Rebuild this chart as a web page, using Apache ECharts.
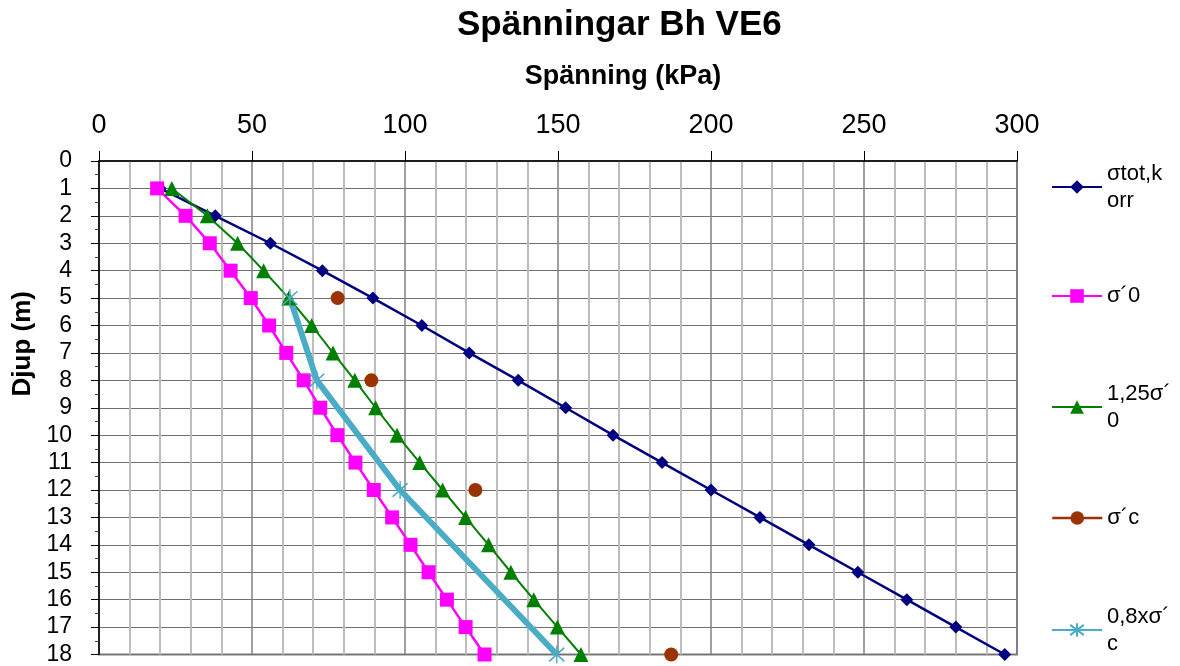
<!DOCTYPE html>
<html>
<head>
<meta charset="utf-8">
<title>Spänningar Bh VE6</title>
<script src="https://cdn.jsdelivr.net/npm/echarts@6.0.0/dist/echarts.min.js"></script>
<style>
  html, body { margin: 0; padding: 0; background: #fff; }
  #chart { width: 1180px; height: 666px; }
</style>
</head>
<body>
<div id="chart"></div>
<script>
  // djup (m)
  const depths = [1, 2, 3, 4, 5, 6, 7, 8, 9, 10, 11, 12, 13, 14, 15, 16, 17, 18]
  const sigmaTotKorr = [20, 38, 56, 73, 89.5, 105.5, 121, 137, 152.5, 168, 184, 200, 216, 232, 248, 264, 280, 296]
  const sigma0 = [19, 28.3, 36.2, 43, 49.6, 55.6, 61.2, 66.9, 72.3, 77.9, 83.8, 89.8, 95.8, 101.8, 107.7, 113.7, 119.8, 126]
  const sigma0x125 = [23.8, 35.4, 45.3, 53.8, 62, 69.5, 76.5, 83.6, 90.4, 97.4, 104.8, 112.3, 119.8, 127.3, 134.6, 142.1, 149.8, 157.5]
  // förkonsolideringstryck
  const depthsC = [5, 8, 12, 18]
  const sigmaC = [78, 89, 123, 187]
  const sigmaCx08 = [62.4, 71.2, 98.4, 149.6]

  const seriesNames = ['σtot,korr', 'σ´0', '1,25σ´0', 'σ´c', '0,8xσ´c']
  const legendLabels = ['σtot,k\norr', 'σ´0', '1,25σ´\n0', 'σ´c', '0,8xσ´\nc']
  const legendCenters = [187, 296, 407, 518, 630]

  const xTicks = [0, 50, 100, 150, 200, 250, 300]
  const yTicks = [0, 18]

  const FONT = '"Liberation Sans", Arial, sans-serif'
  const LINE_H = 27

  function pairs(xs, ys) {
    return xs.map((x, i) => [x, ys[i]])
  }

  const chart = echarts.init(document.getElementById('chart'))

  const legends = seriesNames.map((name, i) => {
    const twoLine = legendLabels[i].indexOf('\n') >= 0
    return {
      data: [name],
      left: 1051,
      top: legendCenters[i] - (twoLine ? LINE_H * 1.5 : LINE_H / 2),
      padding: 0,
      itemWidth: 50,
      itemHeight: 17,
      selectedMode: false,
      formatter: () => legendLabels[i],
      lineStyle: { opacity: 1 },
      textStyle: {
        fontFamily: FONT,
        fontSize: 22,
        color: '#000',
        lineHeight: LINE_H,
        padding: twoLine ? [LINE_H, 0, 0, 0] : 0
      }
    }
  })
  // σ´c har bara punkter men linje i legenden
  legends[3].lineStyle = { opacity: 1, width: 2.5, color: '#993300' }

  chart.setOption({
    animation: false,
    title: {
      text: 'Spänningar Bh VE6',
      left: 457,
      top: 8,
      padding: 0,
      textStyle: { fontFamily: FONT, fontSize: 35, fontWeight: 'bold', color: '#000' }
    },
    legend: legends,
    grid: {
      left: 99,
      top: 161,
      width: 918,
      height: 494,
      show: true,
      borderColor: '#808080',
      borderWidth: 2
    },
    xAxis: {
      type: 'value',
      position: 'top',
      min: xTicks[0],
      max: xTicks[xTicks.length - 1],
      interval: 50,
      name: 'Spänning (kPa)',
      nameLocation: 'middle',
      nameGap: 71,
      nameTextStyle: {
        fontFamily: FONT, fontSize: 27, fontWeight: 'bold', color: '#000',
        padding: [0, 0, 0, 130]
      },
      axisLine: { show: true, lineStyle: { color: '#000', width: 1.5 } },
      axisTick: { show: true, length: 10, lineStyle: { color: '#000' } },
      axisLabel: { fontFamily: FONT, fontSize: 27, color: '#000', margin: 22 },
      splitLine: { show: true, lineStyle: { color: '#808080', width: 1.5 } },
      minorTick: { show: false, splitNumber: 5 },
      minorSplitLine: { show: true, lineStyle: { color: '#bdbdbd', width: 2 } }
    },
    yAxis: {
      type: 'value',
      inverse: true,
      min: yTicks[0],
      max: yTicks[1],
      interval: 1,
      name: 'Djup (m)',
      nameLocation: 'middle',
      nameGap: 58,
      nameTextStyle: {
        fontFamily: FONT, fontSize: 26, fontWeight: 'bold', color: '#000',
        padding: [0, 0, 0, 128]
      },
      axisLine: { show: true, lineStyle: { color: '#000', width: 1.5 } },
      axisTick: { show: true, length: 8, lineStyle: { color: '#000' } },
      minorTick: { show: true, splitNumber: 2, length: 4, lineStyle: { color: '#404040' } },
      axisLabel: { fontFamily: FONT, fontSize: 23, color: '#000', margin: 27 },
      splitLine: { show: true, lineStyle: { color: '#707070', width: 1 } }
    },
    series: [
      {
        name: seriesNames[0],
        type: 'line',
        clip: false,
        data: pairs(sigmaTotKorr, depths),
        symbol: 'diamond',
        symbolSize: 13,
        color: '#000080',
        lineStyle: { color: '#000080', width: 2.5 },
        itemStyle: { color: '#000080' }
      },
      {
        name: seriesNames[1],
        type: 'line',
        clip: false,
        data: pairs(sigma0, depths),
        symbol: 'rect',
        symbolSize: 14,
        color: '#ff00ff',
        lineStyle: { color: '#ff00ff', width: 2.5 },
        itemStyle: { color: '#ff00ff' }
      },
      {
        name: seriesNames[2],
        type: 'line',
        clip: false,
        data: pairs(sigma0x125, depths),
        symbol: 'triangle',
        symbolSize: 15,
        color: '#008000',
        lineStyle: { color: '#008000', width: 2 },
        itemStyle: { color: '#008000' }
      },
      {
        name: seriesNames[3],
        type: 'line',
        clip: false,
        data: pairs(sigmaC, depthsC),
        symbol: 'circle',
        symbolSize: 14,
        color: '#993300',
        lineStyle: { color: '#993300', width: 2.5, opacity: 0 },
        itemStyle: { color: '#993300' }
      },
      {
        name: seriesNames[4],
        type: 'line',
        clip: false,
        data: pairs(sigmaCx08, depthsC),
        symbol: 'path://M0,-8L0,8M-6,-6L6,6M-6,6L6,-6',
        symbolSize: [15, 18],
        color: '#4bacc6',
        lineStyle: { color: '#4bacc6', width: 6 },
        itemStyle: { color: '#4bacc6', borderColor: '#4bacc6', borderWidth: 1.5 }
      }
    ]
  })
</script>
</body>
</html>
